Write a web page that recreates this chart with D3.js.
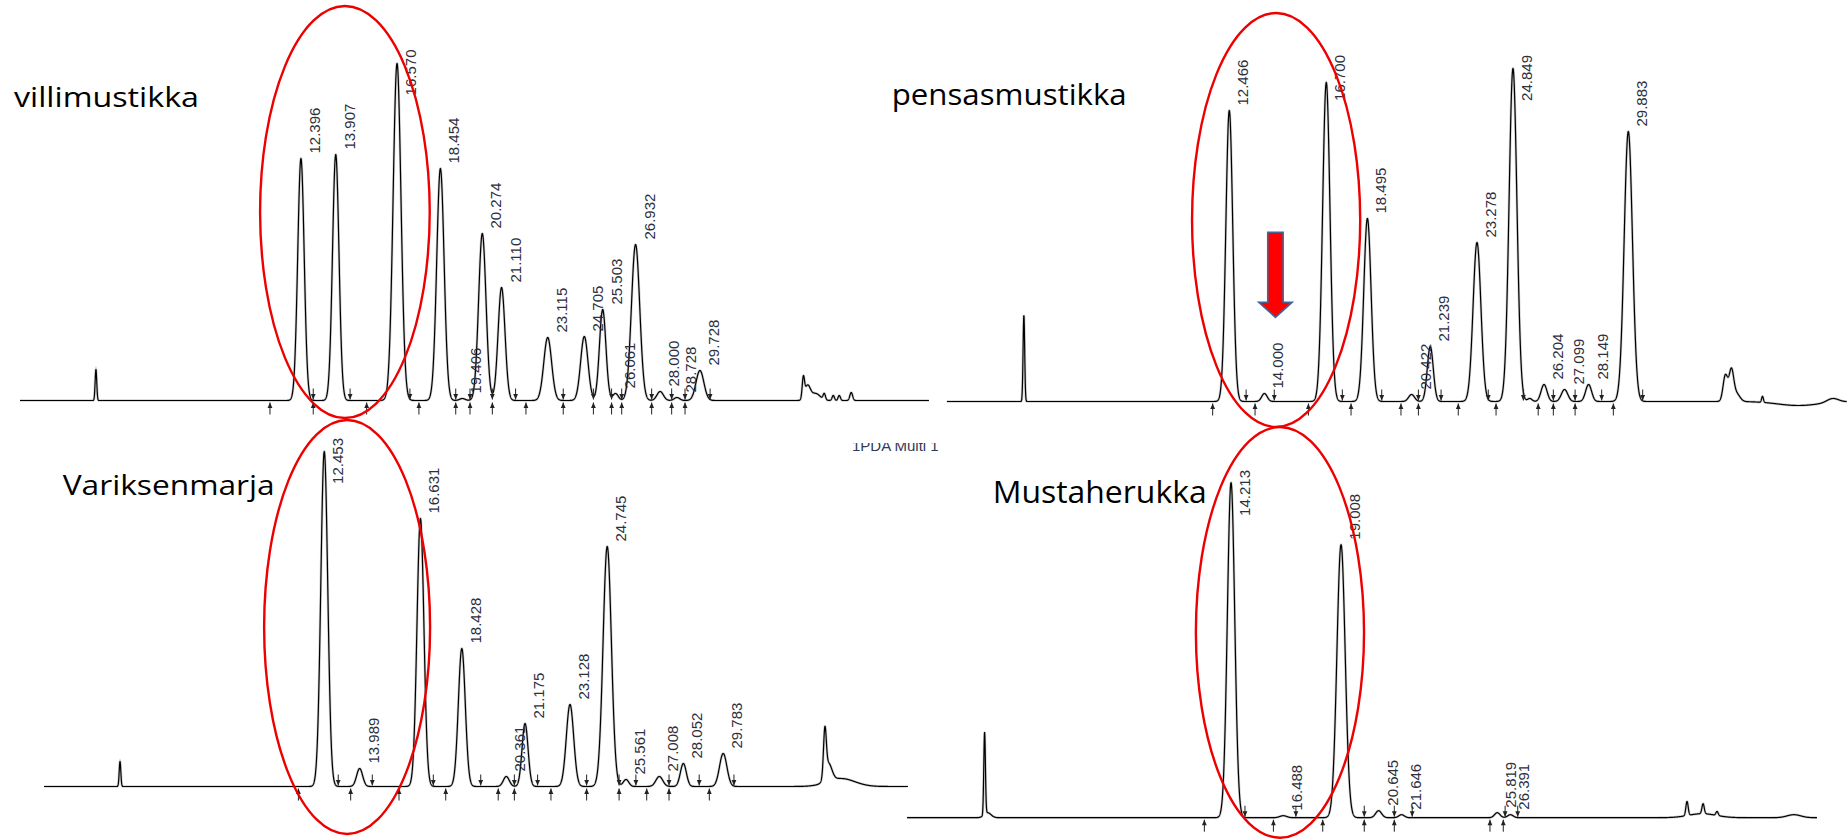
<!DOCTYPE html>
<html><head><meta charset="utf-8">
<script src="https://cdn.jsdelivr.net/npm/d3@7"></script>
<style>body{margin:0;background:#fff}svg{display:block}</style>
</head><body>
<svg id="c" width="1847" height="839"></svg>
<script>
// ================= DATA (retention time in min, peak height in mAU-like units) =================
const titles = ["villimustikka", "pensasmustikka", "Variksenmarja", "Mustaherukka"];
const overlayText = "1PDA Multi 1";

// --- villimustikka ---
const vmTimes   = [12.396, 13.907, 16.570, 18.454, 19.406, 20.274, 21.110, 23.115, 24.705, 25.503, 26.061, 26.932, 28.000, 28.728, 29.728];
const vmHeights = [242, 246, 337, 232, 2, 167, 113, 63, 64, 91, 7, 156, 9, 3, 30];
const vmWidths  = [0.14, 0.14, 0.17, 0.16, 0.12, 0.16, 0.15, 0.17, 0.16, 0.14, 0.12, 0.18, 0.14, 0.12, 0.17];
const vmOtherTimes   = [3.49, 34.22, 34.40, 34.75, 35.13, 35.52, 35.78, 36.30];
const vmOtherHeights = [31, 20, 14, 7, 6, 5, 5, 8];
const vmOtherWidths  = [0.035, 0.05, 0.12, 0.2, 0.05, 0.05, 0.05, 0.06];
const vmStarts = [11.05, 12.93, 15.25, 17.52, 19.12, 19.74, 20.71, 22.17, 23.79, 25.10, 25.89, 26.33, 27.63, 28.50, 29.08];
const vmEnds   = [12.93, 14.53, 17.13, 19.12, 19.74, 20.71, 21.72, 23.79, 25.10, 25.89, 26.33, 27.63, 28.50, 29.08, 30.17];

// --- pensasmustikka ---
const pmTimes   = [12.466, 14.000, 16.700, 18.495, 20.422, 21.239, 23.278, 24.849, 26.204, 27.099, 28.149, 29.883];
const pmHeights = [291, 8, 319, 183, 7, 55, 159, 333, 17, 12, 17, 270];
const pmWidths  = [0.15, 0.12, 0.16, 0.16, 0.13, 0.13, 0.17, 0.17, 0.13, 0.14, 0.13, 0.18];
const pmOtherTimes   = [3.50, 25.58, 34.12, 34.38, 34.60, 35.74, 37.30, 38.80];
const pmOtherHeights = [86, 3, 26, 30, 8, 6, -4, 4];
const pmOtherWidths  = [0.035, 0.1, 0.1, 0.1, 0.15, 0.04, 0.9, 0.25];
const pmStarts = [11.74, 13.59, 15.92, 17.78, 19.96, 20.72, 22.46, 24.11, 25.95, 26.61, 27.56, 29.23];
const pmEnds   = [13.20, 14.43, 17.40, 19.12, 20.72, 21.71, 23.77, 25.30, 26.61, 27.56, 28.72, 30.51];

// --- Variksenmarja ---
const vaTimes   = [12.453, 13.989, 16.631, 18.428, 20.361, 21.175, 23.128, 24.745, 25.561, 27.008, 28.052, 29.783];
const vaHeights = [335, 18, 268, 138, 10, 63, 82, 240, 7, 10, 23, 33];
const vaWidths  = [0.15, 0.13, 0.15, 0.15, 0.13, 0.13, 0.16, 0.18, 0.12, 0.15, 0.13, 0.16];
const vaOtherTimes   = [3.58, 34.20, 34.35, 34.90];
const vaOtherHeights = [25, 45, 18, 8];
const vaOtherWidths  = [0.035, 0.06, 0.15, 0.6];
const vaStarts = [11.33, 13.60, 15.70, 17.73, 20.01, 20.71, 22.30, 23.85, 25.26, 26.46, 27.43, 29.18];
const vaEnds   = [13.06, 14.54, 17.19, 19.25, 20.71, 21.72, 23.85, 25.26, 25.99, 27.43, 28.74, 30.25];

// --- Mustaherukka ---
const mhTimes   = [14.213, 16.488, 19.008, 20.645, 21.646, 25.819, 26.391];
const mhHeights = [335, 2, 273, 7, 3, 5, 3];
const mhWidths  = [0.16, 0.15, 0.18, 0.13, 0.12, 0.12, 0.12];
const mhOtherTimes   = [3.47, 3.60, 34.09, 34.79, 35.40, 34.75, 38.75];
const mhOtherHeights = [82, 5, 14, 10, 4, 4, 3];
const mhOtherWidths  = [0.035, 0.15, 0.05, 0.05, 0.05, 0.6, 0.3];
const mhStarts = [13.05, 16.06, 18.21, 20.02, 21.33, 25.50, 26.08];
const mhEnds   = [14.82, 17.04, 20.02, 21.33, 22.11, 26.16, 26.71];

// ================= LAYOUT =================
const panels = [
  {title: titles[0], times: vmTimes, heights: vmHeights, widths: vmWidths,
   oT: vmOtherTimes, oH: vmOtherHeights, oW: vmOtherWidths, starts: vmStarts, ends: vmEnds,
   x0: 15.6, slope: 23.02, base: 400.5, tFrom: 0.19, tTo: 39.68, labelTop: 49.5,
   ell: {t: [10.62, 17.99], v: [394.5, -17.5]},
   tx: 14, ty: 107.3, tw: 185, ts: 28.5},
  {title: titles[1], times: pmTimes, heights: pmHeights, widths: pmWidths,
   oT: pmOtherTimes, oH: pmOtherHeights, oW: pmOtherWidths, starts: pmStarts, ends: pmEnds,
   x0: 943.7, slope: 22.91, base: 401.5, tFrom: 0.14, tTo: 39.42, labelTop: 55,
   ell: {t: [10.84, 18.18], v: [388.5, -25.5]},
   tx: 891.7, ty: 105, tw: 235, ts: 31, arrow: true},
  {title: titles[2], times: vaTimes, heights: vaHeights, widths: vaWidths,
   oT: vaOtherTimes, oH: vaOtherHeights, oW: vaOtherWidths, starts: vaStarts, ends: vaEnds,
   x0: 37.6, slope: 23.02, base: 786.5, tFrom: 0.28, tTo: 37.81, labelTop: 438,
   ell: {t: [9.84, 17.05], v: [366.5, -47.5]},
   tx: 62.7, ty: 495, tw: 212, ts: 29.5},
  {title: titles[3], times: mhTimes, heights: mhHeights, widths: mhWidths,
   oT: mhOtherTimes, oH: mhOtherHeights, oW: mhOtherWidths, starts: mhStarts, ends: mhEnds,
   x0: 905, slope: 22.94, base: 817.7, tFrom: 0.09, tTo: 39.76, labelTop: 470,
   ell: {t: [12.68, 20.01], v: [390.7, -20]},
   tx: 992.7, ty: 503.3, tw: 214, ts: 33}
];

const svg = d3.select("#c");

panels.forEach((p, pi) => {
  const x = d3.scaleLinear().domain([0, 40]).range([p.x0, p.x0 + 40 * p.slope]);
  const y = d3.scaleLinear().domain([0, 400]).range([p.base, p.base - 400]);
  const allT = p.times.concat(p.oT), allH = p.heights.concat(p.oH), allW = p.widths.concat(p.oW);
  const f = t => {
    let s = 0;
    for (let i = 0; i < allT.length; i++) {
      const d = (t - allT[i]) / allW[i];
      if (Math.abs(d) < 8) s += allH[i] * Math.exp(-0.5 * d * d);
    }
    return s;
  };
  const ts = d3.range(p.tFrom, p.tTo, 0.005);
  const pts = ts.map(t => [t, f(t)]);
  const line = d3.line().x(d => x(d[0])).y(d => y(d[1]));
  const g = svg.append("g");

  // title
  g.append("text").attr("x", p.tx).attr("y", p.ty)
    .attr("textLength", p.tw).attr("lengthAdjust", "spacingAndGlyphs")
    .style("font-family", "'Open Sans', 'Noto Sans', sans-serif").style("font-weight", "400")
    .style("font-size", (p.ts * 0.93) + "px")
    .attr("fill", "#000").text(p.title);

  // trace with soft halo
  g.append("path").attr("d", line(pts)).attr("fill", "none")
    .attr("stroke", "#777").attr("stroke-opacity", 0.35).attr("stroke-width", 2.6);
  g.append("path").attr("d", line(pts)).attr("fill", "none")
    .attr("stroke", "#000").attr("stroke-width", 1.2).attr("stroke-linejoin", "round");

  // integration markers
  const mk = g.append("g").attr("stroke", "#222").attr("stroke-width", 1).attr("fill", "#222");
  p.starts.forEach(t => {
    const xx = x(t), b = p.base;
    mk.append("line").attr("x1", xx).attr("x2", xx).attr("y1", b + 2).attr("y2", b + 14);
    mk.append("path").attr("stroke", "none").attr("d", `M${xx - 2.4},${b + 7.5}L${xx + 2.4},${b + 7.5}L${xx},${b + 2}Z`);
  });
  p.ends.forEach(t => {
    const xx = x(t), b = p.base;
    mk.append("line").attr("x1", xx).attr("x2", xx).attr("y1", b - 12).attr("y2", b - 1);
    mk.append("path").attr("stroke", "none").attr("d", `M${xx - 2.4},${b - 6.5}L${xx + 2.4},${b - 6.5}L${xx},${b - 1}Z`);
  });

  // peak labels
  p.times.forEach(t => {
    const px = x(t), top = y(f(t));
    const txt = g.append("text")
      .style("font-family", "'Liberation Sans', Arial, sans-serif").style("font-size", "15px")
      .attr("fill", "#2d2f3d").text(t.toFixed(3));
    const len = txt.node().getComputedTextLength();
    const bottom = Math.max(top - 5, p.labelTop + len);
    txt.attr("transform", `translate(${px + 19},${bottom}) rotate(-90)`);
  });

  // red arrow annotation (pensasmustikka, pointing at the 14.000 peak)
  if (p.arrow) {
    const cx = x(14.0) + 11, yT = y(169.2), yH = y(99.2), yTip = y(84.2);
    g.append("path")
      .attr("d", `M${cx - 7.7},${yT}H${cx + 7.7}V${yH}H${cx + 16.7}L${cx},${yTip}L${cx - 16.7},${yH}H${cx - 7.7}Z`)
      .attr("fill", "#ff0000").attr("stroke", "#41669a").attr("stroke-width", 1.6);
  }

  // red ellipse
  const e = p.ell;
  svg.append("ellipse")
    .attr("cx", (x(e.t[0]) + x(e.t[1])) / 2).attr("cy", (y(e.v[0]) + y(e.v[1])) / 2)
    .attr("rx", (x(e.t[1]) - x(e.t[0])) / 2).attr("ry", Math.abs(y(e.v[1]) - y(e.v[0])) / 2)
    .attr("fill", "none").attr("stroke", "#ee0000").attr("stroke-width", 2.4);
});

// partially hidden software caption fragment
svg.append("clipPath").attr("id", "cap").append("rect").attr("x", 840).attr("y", 443).attr("width", 130).attr("height", 20);
svg.append("text").attr("clip-path", "url(#cap)").attr("x", 852).attr("y", 451)
  .style("font-family", "'Liberation Sans', Arial, sans-serif").style("font-size", "15px")
  .attr("fill", "#2f3a55").text(overlayText);
</script>
</body></html>
